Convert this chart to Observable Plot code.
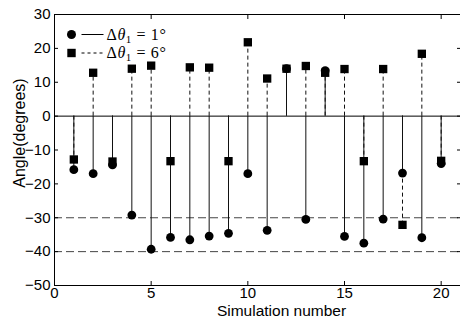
<!DOCTYPE html>
<html><head><meta charset="utf-8">
<script src="https://cdn.jsdelivr.net/npm/d3@7"></script>
<script src="https://cdn.jsdelivr.net/npm/@observablehq/plot@0.6"></script>
<style>body{margin:0;background:#fff} #chart{width:460px;height:322px}</style>
</head><body><div id="chart"></div>
<script>
const simulation = [1,2,3,4,5,6,7,8,9,10,11,12,13,14,15,16,17,18,19,20];
const angle1 = [-15.8,-17.0,-14.4,-29.2,-39.3,-35.8,-36.5,-35.4,-34.6,-17.0,-33.7,14.0,-30.5,13.4,-35.5,-37.5,-30.4,-16.8,-35.9,-14.0];
const angle6 = [-12.8,12.8,-13.4,14.0,14.9,-13.3,14.4,14.3,-13.3,21.8,11.1,14.0,14.8,12.8,13.9,-13.3,13.9,-32.1,18.4,-13.2];
const refLines = [-30,-40];
const xTicks = [0,5,10,15,20];
const yTicks = [-50,-40,-30,-20,-10,0,10,20,30];
const seriesDelta = ["1°","6°"];
const xLabel = "Simulation number";
const yLabel = "Angle(degrees)";

const data = simulation.map((s,i)=>({s, a1: angle1[i], a6: angle6[i]}));

function legendMark(index, scales, values, dims) {
  const g = d3.create("svg:g");
  const left = dims.marginLeft, top = dims.marginTop;
  seriesDelta.forEach((d, i) => {
    const cy = top + 20.5 + i * 18.5;
    const cx = left + 17.5;
    if (i === 0) g.append("circle").attr("cx", cx).attr("cy", cy).attr("r", 4.5).attr("fill", "#000");
    else g.append("rect").attr("x", cx - 4.2).attr("y", cy - 4.2).attr("width", 8.4).attr("height", 8.4).attr("fill", "#000");
    g.append("line").attr("x1", cx + 10).attr("x2", cx + 32).attr("y1", cy).attr("y2", cy)
      .attr("stroke", "#000").attr("stroke-dasharray", i === 0 ? null : "3,3");
    const t = g.append("text").attr("x", cx + 35).attr("y", cy + 5).attr("text-anchor", "start")
      .attr("font-family", "'Liberation Serif', 'DejaVu Serif', serif").attr("font-size", 16)
      .attr("letter-spacing", 0.6).attr("fill", "#000");
    t.append("tspan").text("Δ");
    t.append("tspan").attr("font-style", "italic").text("θ");
    t.append("tspan").attr("font-size", 11).attr("dy", 3).text("1");
    t.append("tspan").attr("dy", -3).text(" = " + d);
  });
  return g.node();
}

const plot = Plot.plot({
  width: 460, height: 322,
  marginLeft: 54, marginRight: 0, marginTop: 14, marginBottom: 37,
  style: {fontFamily: "'Liberation Sans', Arial, sans-serif", fontSize: "14px", color: "#000", background: "#fff"},
  x: {domain: [0, 21]},
  y: {domain: [-50, 30]},
  marks: [
    Plot.ruleY(refLines, {stroke: "#444", strokeDasharray: "8,4"}),
    Plot.ruleY([0], {stroke: "#000"}),
    Plot.ruleX(data, {x: "s", y1: 0, y2: "a6", stroke: "#111", strokeDasharray: "4,3"}),
    Plot.ruleX(data, {x: "s", y1: 0, y2: "a1", stroke: "#111"}),
    Plot.dot(data, {x: "s", y: "a1", r: 4.4, fill: "#000"}),
    Plot.dot(data, {x: "s", y: "a6", symbol: "square", r: 4.7, fill: "#000"}),
    Plot.frame({stroke: "#000"}),
    Plot.axisX(xTicks, {anchor: "bottom", tickSize: -4, tickFormat: () => "", label: null}),
    Plot.axisX(xTicks, {anchor: "top", tickSize: -4, tickFormat: () => "", label: null}),
    Plot.axisY(yTicks, {anchor: "left", tickSize: -4, tickFormat: () => "", label: null}),
    Plot.axisY(yTicks, {anchor: "right", tickSize: -4, tickFormat: () => "", label: null}),
    Plot.axisX(xTicks, {anchor: "bottom", tickSize: 0, tickPadding: 2, label: null, fontSize: 15}),
    Plot.axisY(yTicks, {anchor: "left", tickSize: 0, tickPadding: 4, label: null, fontSize: 15}),
    Plot.text([xLabel], {text: d => d, frameAnchor: "bottom", dy: 26, dx: 24, fontSize: 15.5, lineAnchor: "middle"}),
    Plot.text([yLabel], {text: d => d, frameAnchor: "left", textAnchor: "middle", rotate: -90, dx: -35, dy: -17, fontSize: 16}),
    legendMark
  ]
});
document.getElementById("chart").append(plot);
</script></body></html>
